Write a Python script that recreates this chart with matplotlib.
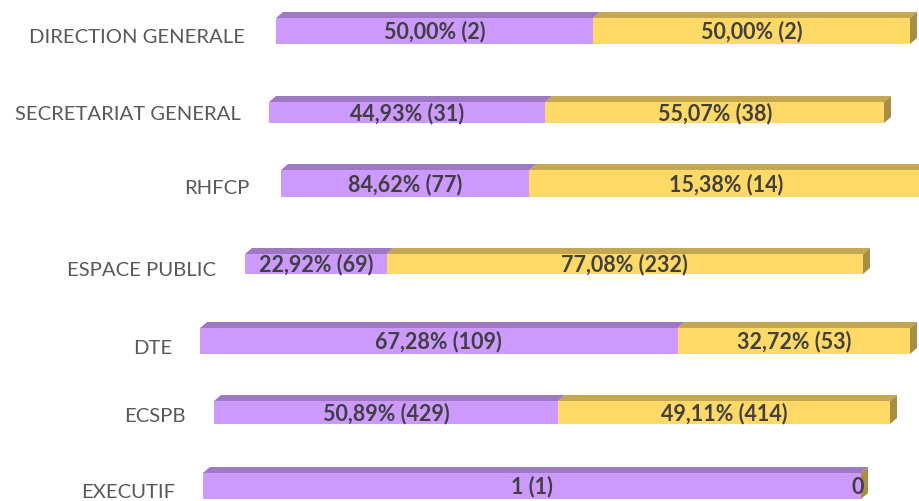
import matplotlib.pyplot as plt
from matplotlib.patches import Polygon

plt.rcParams['font.family'] = ['Lato', 'DejaVu Sans']

categories = ['DIRECTION GENERALE', 'SECRETARIAT GENERAL', 'RHFCP', 'ESPACE PUBLIC',
              'DTE', 'ECSPB', 'EXECUTIF']
# part violette de chaque barre (en %), lue sur la longueur des barres
# (RHFCP est dessinée vers 39 % dans la source, malgré son étiquette)
part_violet = [50.00, 44.93, 38.70, 22.92, 67.28, 50.89, 100.0]
part_jaune = [50.00, 55.07, 61.30, 77.08, 32.72, 49.11, 0.0]
labels_violet = ['50,00% (2)', '44,93% (31)', '84,62% (77)', '22,92% (69)',
                 '67,28% (109)', '50,89% (429)', '1 (1)']
labels_jaune = ['50,00% (2)', '55,07% (38)', '15,38% (14)', '77,08% (232)',
                '32,72% (53)', '49,11% (414)', '0']

# mise en page de chaque ligne en pixels: x debut, x fin, haut et bas de la face avant
rangees = [(276, 910, 18, 44), (269, 884, 102, 123), (281, 923, 170, 197),
           (245, 863, 254, 274), (200, 910, 328, 354), (214, 890, 401, 424),
           (203, 861, 473, 499)]
pos_labels = [(245, 37), (241, 114), (249, 189), (216, 270), (172, 349),
              (186, 417), (175, 493)]

couleurs = ['#CC99FF', '#FFD966']
couleurs_dessus = ['#9E78C2', '#C4A752']
couleur_cote = '#A88E45'
prof, haut = 7, 6

fig = plt.figure(figsize=(9.19, 5.01), dpi=100)
ax = fig.add_axes([0, 0, 1, 1])
ax.set_xlim(0, 919)
ax.set_ylim(501, 0)
ax.axis('off')

for i, cat in enumerate(categories):
    x0, x1, yt, yb = rangees[i]
    span = x1 - x0
    yc = (yt + yb) / 2
    gauche = x0
    for j, (parts, labs) in enumerate([(part_violet, labels_violet), (part_jaune, labels_jaune)]):
        w = parts[i] / 100 * span
        ax.barh(yc, w, left=gauche, height=yb - yt, color=couleurs[j], linewidth=0)
        ax.add_patch(Polygon([(gauche, yt), (gauche + prof, yt - haut),
                              (gauche + w + prof, yt - haut), (gauche + w, yt)],
                             closed=True, facecolor=couleurs_dessus[j], linewidth=0))
        xt = gauche + w / 2 if w > 0 else gauche - 3
        ax.text(xt, yc + 1, labs[i], ha='center', va='center', fontsize=15.5,
                fontweight='bold', color='#404040')
        gauche += w
    ax.add_patch(Polygon([(x1, yt), (x1 + prof, yt - haut), (x1 + prof, yb - haut), (x1, yb)],
                         closed=True, facecolor=couleur_cote, linewidth=0))
    lx, ly = pos_labels[i]
    ax.text(lx, ly, cat, ha='right', va='center', fontsize=14.6, color='#595959')

fig.savefig('out.png', dpi=100)
